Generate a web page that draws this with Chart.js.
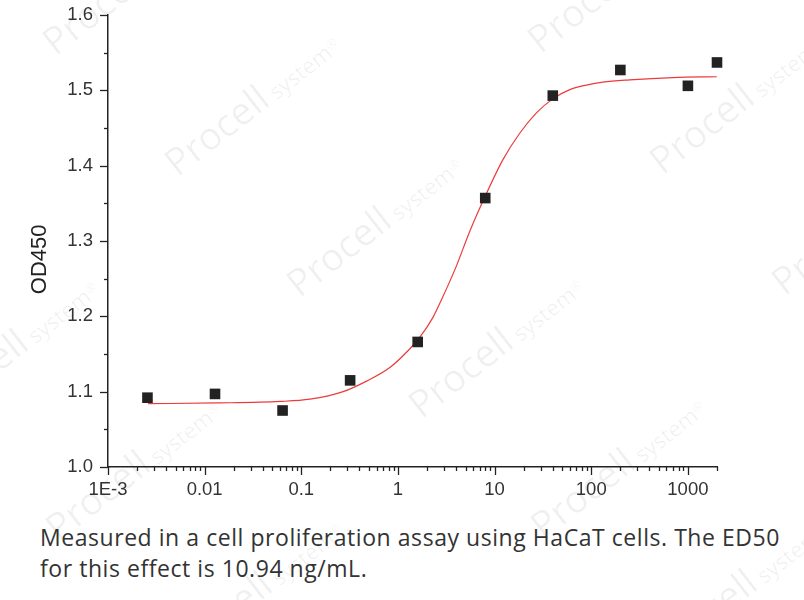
<!DOCTYPE html>
<html>
<head>
<meta charset="utf-8">
<script src="https://cdn.jsdelivr.net/npm/chart.js@4"></script>
<style>
  html, body { margin: 0; padding: 0; background: #fff; }
  #wrap { position: relative; width: 804px; height: 600px; overflow: hidden; }
  #marks { position: absolute; left: 0; top: 0; width: 804px; height: 600px; }
  .wm {
    position: absolute; white-space: nowrap; transform-origin: 0 100%;
    transform: rotate(-38deg); font-family: 'Open Sans', sans-serif;
    color: rgba(0, 0, 0, 0.06); line-height: 1;
  }
  .wm b { font-weight: 400; font-size: 38px; }
  .wm i { font-style: normal; font-size: 22px; }
  .wm sup { font-size: 13px; }
  #chartBox { position: absolute; left: 0; top: 0; width: 804px; height: 510px; }
  #caption {
    position: absolute; left: 40px; top: 522px; white-space: nowrap;
    font-family: 'Open Sans', sans-serif; font-size: 23px; letter-spacing: 0.55px;
    line-height: 31px; color: #333;
  }
</style>
</head>
<body>
<div id="wrap">
  <div id="marks"></div>
  <div id="chartBox"><canvas id="chart"></canvas></div>
  <div id="caption">Measured in a cell proliferation assay using HaCaT cells. The ED50<br>for this effect is 10.94 ng/mL.</div>
</div>
<script>
// Measured points (ng/mL, OD450)
const doses = [0.00256, 0.0128, 0.064, 0.32, 1.6, 8, 40, 200, 1000, 2000];
const od450 = [1.092, 1.097, 1.075, 1.115, 1.166, 1.357, 1.493, 1.527, 1.506, 1.537];

// Fitted curve
const fitX = [0.0026, 0.0133, 0.06, 0.123, 0.271, 0.473, 0.824, 1.33, 1.68, 2.31, 2.82, 4.0, 5.5, 7.9, 12.2, 18.2, 27.1, 40.3, 60, 89, 132, 250, 700, 1990];
const fitY = [1.084, 1.085, 1.087, 1.090, 1.100, 1.114, 1.132, 1.157, 1.172, 1.199, 1.222, 1.266, 1.312, 1.358, 1.408, 1.443, 1.470, 1.489, 1.501, 1.507, 1.511, 1.514, 1.517, 1.518];

// Axis ticks
const xMajorTicks = [0.001, 0.01, 0.1, 1, 10, 100, 1000];
const xTickLabels = ['1E-3', '0.01', '0.1', '1', '10', '100', '1000'];
const xMax = 2000;

// Watermark anchor points (left end of "Procell")
const markX = [58, 180, 302, 424, 546, 668, 543, 665, 787, -61, 61, 183];
const markY = [60, 181, 302, 423, 544, 665, 58, 179, 300, 425, 546, 667];

const FONT = 'Liberation Sans, Arial, sans-serif';
const AXIS = '#222';

const marks = document.getElementById('marks');
markX.forEach((x, i) => {
    const d = document.createElement('div');
    d.className = 'wm';
    d.innerHTML = '<b>Procell</b><i> system</i><sup>&reg;</sup>';
    d.style.left = x + 'px';
    d.style.top = (markY[i] - 38) + 'px';
    marks.appendChild(d);
});

// tick marks drawn by hand so major/minor can have different lengths
const tickMarks = {
    id: 'tickMarks',
    afterDraw(chart) {
        const ctx = chart.ctx;
        const xs = chart.scales.x;
        const ys = chart.scales.y;
        ctx.save();
        ctx.strokeStyle = AXIS;
        ctx.lineWidth = 1.3;
        xs.ticks.forEach(t => {
            const px = Math.round(xs.getPixelForValue(t.value)) + 0.5;
            const len = xMajorTicks.includes(t.value) ? 8 : 4;
            ctx.beginPath();
            ctx.moveTo(px, ys.bottom);
            ctx.lineTo(px, ys.bottom + len);
            ctx.stroke();
        });
        ys.ticks.forEach(t => {
            const py = Math.round(ys.getPixelForValue(t.value)) + 0.5;
            const len = Math.round(t.value * 100) % 10 === 0 ? 8 : 4;
            ctx.beginPath();
            ctx.moveTo(xs.left - len, py);
            ctx.lineTo(xs.left, py);
            ctx.stroke();
        });
        ctx.restore();
    }
};

new Chart(document.getElementById('chart'), {
    type: 'scatter',
    data: {
        datasets: [
            {
                label: 'fit',
                data: fitX.map((x, i) => ({ x: x, y: fitY[i] })),
                showLine: true,
                borderColor: '#ec3b3b',
                borderWidth: 1.2,
                pointRadius: 0,
                cubicInterpolationMode: 'monotone',
                order: 2,
            },
            {
                label: 'OD450',
                data: doses.map((x, i) => ({ x: x, y: od450[i] })),
                pointStyle: 'rect',
                pointRadius: 7.5,
                backgroundColor: '#222',
                borderColor: '#222',
                borderWidth: 0,
                clip: false,
                order: 1,
            },
        ],
    },
    options: {
        responsive: true,
        maintainAspectRatio: false,
        animation: false,
        layout: { padding: { top: 15, right: 87, bottom: 0, left: 0 } },
        plugins: { legend: { display: false }, tooltip: { enabled: false } },
        scales: {
            x: {
                type: 'logarithmic',
                min: 0.001,
                max: xMax,
                grid: { display: false, drawTicks: false, tickLength: 0 },
                border: { display: true, color: AXIS, width: 1.5 },
                afterBuildTicks(scale) {
                    const ticks = [];
                    for (let e = -3; e <= 3; e++) {
                        for (let m = 1; m <= 9; m++) {
                            const v = parseFloat((m * Math.pow(10, e)).toPrecision(6));
                            if (v <= xMax) ticks.push({ value: v });
                        }
                    }
                    scale.ticks = ticks;
                },
                afterFit(scale) {
                    scale.height = 43;
                    scale.paddingLeft = 0;
                    scale.paddingRight = 0;
                },
                ticks: {
                    autoSkip: false,
                    maxRotation: 0,
                    padding: 12,
                    color: '#333',
                    font: { family: FONT, size: 18.5 },
                    callback: function (v) {
                        const i = xMajorTicks.indexOf(v);
                        return i >= 0 ? xTickLabels[i] : '';
                    },
                },
            },
            y: {
                min: 1.0,
                max: 1.6,
                grid: { display: false, drawTicks: false, tickLength: 0 },
                border: { display: true, color: AXIS, width: 1.5 },
                afterFit(scale) {
                    scale.width = 108;
                    scale.paddingTop = 0;
                    scale.paddingBottom = 0;
                },
                title: {
                    display: true,
                    // trailing spaces nudge the title below the axis centre, as in the original
                    text: 'OD450\u00a0\u00a0\u00a0\u00a0\u00a0\u00a0',
                    color: '#222',
                    font: { family: FONT, size: 22 },
                    padding: { top: 27, bottom: 0 },
                },
                ticks: {
                    stepSize: 0.05,
                    padding: 15,
                    color: '#333',
                    font: { family: FONT, size: 18.5 },
                    callback: function (v) {
                        return Math.round(v * 100) % 10 === 0 ? v.toFixed(1) : '';
                    },
                },
            },
        },
    },
    plugins: [tickMarks],
});
</script>
</body>
</html>
